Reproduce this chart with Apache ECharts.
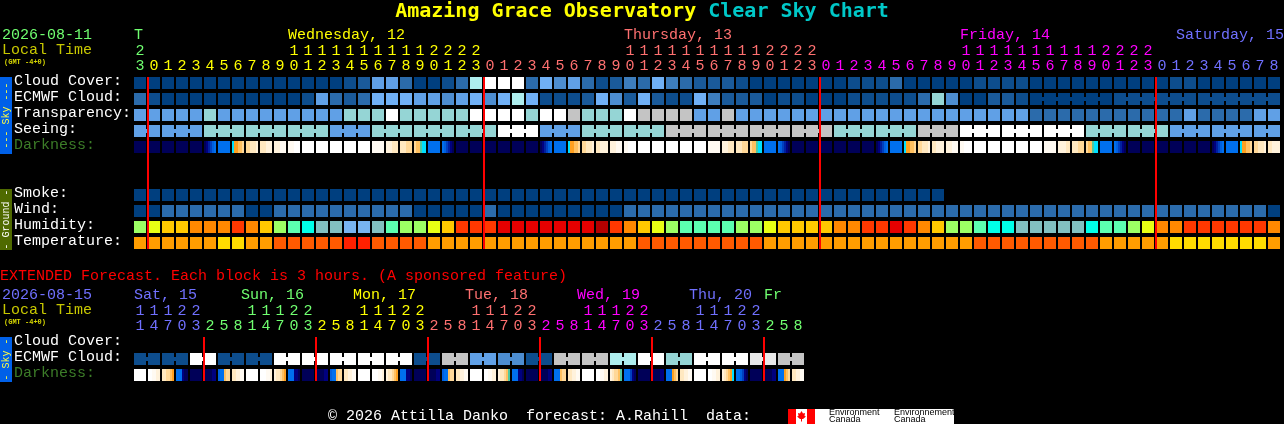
<!DOCTYPE html>
<html><head><meta charset="utf-8">
<style>html,body{margin:0;padding:0;background:#000}#c{width:1284px;height:424px}</style>
<script src="https://cdn.jsdelivr.net/npm/echarts@6/dist/echarts.min.js"></script>
</head><body><div id="c"></div>
<script>
const titleMain = "Amazing Grace Observatory";
const titleSub = "Clear Sky Chart";
const mainHours = [23,0,1,2,3,4,5,6,7,8,9,10,11,12,13,14,15,16,17,18,19,20,21,22,23,
  0,1,2,3,4,5,6,7,8,9,10,11,12,13,14,15,16,17,18,19,20,21,22,23,
  0,1,2,3,4,5,6,7,8,9,10,11,12,13,14,15,16,17,18,19,20,21,22,23,
  0,1,2,3,4,5,6,7,8];
const extHours = [11,14,17,20,23,2,5,8,11,14,17,20,23,2,5,8,11,14,17,20,23,2,5,8,
  11,14,17,20,23,2,5,8,11,14,17,20,23,2,5,8,11,14,17,20,23,2,5,8];
const mainDayLabels = [[0,"T"],[11,"Wednesday, 12"],[35,"Thursday, 13"],[59,"Friday, 14"],[75,"Saturday, 15"]];
const extDayLabels = [[0,"Sat, 15"],[8,"Sun, 16"],[16,"Mon, 17"],[24,"Tue, 18"],[32,"Wed, 19"],[40,"Thu, 20"],[45,"Fr"]];
const mainRows = ["Cloud Cover:","ECMWF Cloud:","Transparency:","Seeing:","Darkness:","","","Smoke:","Wind:","Humidity:","Temperature:"];
const extRows = ["Cloud Cover:","ECMWF Cloud:","Darkness:"];

// sky scale levels 0..12
const cloud = [0,0,0,0,0,0,0,0,0,0, 0,0,0,0,0,1,2,6,6,3, 0,0,1,3,9,12,12,12,3,7,
  5,6,3,1,2,4,3,7,4,3, 2,2,2,1,0,0,0,0,0,0, 0,1,1,1,3,0,0,0,0,0,
  1,1,1,1,0,0,0,0,0,0, 0,0,0,0,1,1,0,0,0,0,0,0];
const ecmwf = [3,1,0,0,0,0,0,0,0,0, 0,0,1,6,3,2,3,7,7,7, 6,6,5,6,7,5,7,9,7,1,
  1,1,2,7,5,2,7,2,1,1, 7,4,2,2,2,0,1,1,0,0, 0,1,1,1,1,1,3,8,5,0,
  0,2,2,1,0,0,0,0,0,0, 1,1,1,1,1,1,1,1,1,1,1,1];
const transparency = [6,6,6,6,6,8,6,6,6,6, 6,6,6,6,6,8,8,8,12,8, 8,8,8,8,12,12,12,12,8,12,
  12,10,8,8,8,12,10,10,10,10, 6,6,10,6,6,6,6,6,6,6, 6,6,6,6,6,6,6,6,6,6,
  6,6,6,6,3,3,3,3,3,3, 3,3,3,3,3,6,3,3,3,3,6,6];
const seeing = [6,6,6,6,6,8,8,8,8,8, 8,8,8,8,6,6,6,8,8,8, 8,8,8,8,8,8,12,12,12,6,
  6,6,8,8,8,8,8,8,10,10, 10,10,10,10,10,10,10,10,10,10, 8,8,8,8,8,8,10,10,10,12,
  12,12,12,12,12,12,12,12,8,8, 8,8,8,8,6,6,6,6,6,6,6,6];
const smoke = [0,0,0,0,0,0,0,0,0,0, 0,0,0,0,0,0,0,0,0,0, 0,0,0,0,0,0,0,0,0,0,
  0,0,0,0,0,0,0,0,0,0, 0,0,0,0,0,0,0,0,0,0, 0,0,0,0,0,0,0,0];
const wind = [0,0,3,3,3,3,3,3,0,0, 3,3,3,3,3,3,3,3,3,3, 0,0,0,0,0,3,0,0,0,0,
  0,0,0,0,0,3,3,3,3,3, 3,3,3,3,3,3,3,3,3,3, 3,3,3,3,3,3,3,3,3,3,
  3,3,3,3,3,3,3,3,3,3, 3,3,3,3,3,3,3,3,3,3,3,0];
const humidity = [4,5,6,6,7,7,7,8,7,6, 4,3,2,1,1,0,0,1,3,4, 4,5,6,8,8,8,9,9,9,9,
  9,9,9,10,8,7,6,5,4,3, 3,3,3,4,4,5,6,6,6,6, 7,7,8,8,9,8,7,6,4,4,
  3,2,2,1,1,1,1,1,2,3, 3,4,5,7,7,8,8,8,8,8,8,7];
const temperature = [1,1,1,1,1,1,0,0,1,1, 2,2,2,2,2,3,3,2,2,2, 2,1,1,1,1,1,1,1,1,1,
  1,1,1,1,1,1,2,2,2,2, 2,2,2,2,2,1,1,1,1,1, 1,1,1,1,1,1,1,1,1,1,
  2,2,2,2,2,2,2,2,2,1, 1,1,1,1,0,0,0,0,0,0,0,1];
const extEcmwf = [1,1,1,1,12,12,1,1,1,1,12,12,12,12,12,12,12,12,12,12,1,1,10,10,
  6,6,5,5,1,1,10,10,10,10,9,9,12,12,8,8,12,12,12,12,11,11,10,10];
// darkness: six samples across each block, one hex level per sample (single char = flat)
const darkness = ["0","0","0","0","0","012345","5","677889","99aaab","aaabbb",
  "bbbccc","cccddd","d","d","d","d","d","c","bbbaaa","aaa999",
  "988e66","5","543210","0","0","0","0","0","0","012345",
  "5","677889","99aaab","aabbbb","bbbccc","ccdddd","d","d","d","d",
  "d","c","bbbaaa","aaa999","988e66","5","543210","0","0","0",
  "0","0","0","012345","5","677889","99aaab","aabbbb","bbbccc","ccdddd",
  "d","d","d","d","d","c","bbbbaa","aaa999","988e66","5",
  "543210","0","0","0","0","0","0","012345","5","677889","99aaab","aabbbb"];
const extDarkness = ["d","ddccbb","aa9987","555100","0","000011","455899","aabbcc",
  "d","dddccb","baa987","555110","0","000011","455899","aabbcc",
  "d","dddccb","baa987","555110","0","000011","455899","aabbcc",
  "d","ddccbb","baa98e","555110","0","000011","555899","aabbcc",
  "d","ddccbb","ba998e","555310","0","000011","555789","aabbcc",
  "d","ddccbb","ba9876","554310","0","000011","555789","aabbcc"];

const skyColors = ["#003f7f","#0d4d8d","#1a5a9a","#2b6bab","#3d7dbd","#4d8dd0","#60a0e6","#70b0f5","#95d5d5","#aeeeee","#c4c4c4","#e8e8e8","#ffffff"];
const humidityColors = ["#78b4f0","#82c0c0","#00ffe8","#5cffb0","#9cff64","#e8ff14","#ffc800","#ff8800","#ff3800","#e60000","#b40000"];
const temperatureColors = ["#ffdc00","#ff9d00","#ff5a00","#ff2000"];
const darkColors = {"0":"#000058","1":"#00007f","2":"#0020a0","3":"#0040c0","4":"#0060e0","5":"#0070ee","6":"#00e0ff","7":"#ffa020","8":"#ffc060","9":"#ffd898","a":"#ffe8c0","b":"#fff2dc","c":"#fffaf2","d":"#ffffff","e":"#50c8a0"};
const dayCycle = ["#70ff70","#ffff00","#ff7070","#ff00ff","#7070ff"];
const MONO = '"Liberation Mono"';
const FONT = '15px ' + MONO;

function dayIndex(hours, start){
  const out=[]; let d=start;
  hours.forEach((h,i)=>{ if(i&&h<hours[i-1]) d++; out.push(d%dayCycle.length); });
  return out;
}
const mainDay = dayIndex(mainHours,0), extDay = dayIndex(extHours,4);

function cellSeries(values, colors, xA, yA, row, linked){
  return {type:'custom', xAxisIndex:xA, yAxisIndex:yA, z:2, clip:false,
    encode:{x:0,y:1}, data:values.map((v,i)=>[i,row,v]),
    renderItem(p,api){
      const i=api.value(0), c=api.coord([i,api.value(1)]);
      const x=c[0]-6, y=c[1]-6, fill=colors[values[i]];
      const kids=[{type:'rect',shape:{x,y,width:12,height:12},style:{fill}}];
      if(linked && linked(i) && i+1<values.length) kids.push({type:'rect',shape:{x:x+12,y:y+4,width:2,height:4},style:{fill}});
      return {type:'group',children:kids};
    }};
}
function darkSeries(values, xA, yA, row){
  return {type:'custom', xAxisIndex:xA, yAxisIndex:yA, z:2, clip:false,
    encode:{x:0,y:1}, data:values.map((v,i)=>[i,row]),
    renderItem(p,api){
      const i=api.value(0), c=api.coord([i,api.value(1)]), x=c[0]-6, y=c[1]-6;
      const code=values[i], samples=code.length===1?code.repeat(6):code;
      return {type:'group',children:samples.split('').map((k,j)=>({type:'rect',
        shape:{x:x+j*2,y,width:2,height:12},style:{fill:darkColors[k]}}))};
    }};
}
function lineSeries(hours, xA, yA, lastRow){
  const idx=hours.map((h,i)=>(i&&h<hours[i-1])?i:-1).filter(i=>i>=0);
  return {type:'custom', xAxisIndex:xA, yAxisIndex:yA, z:5, clip:false,
    encode:{x:0,y:1}, data:idx.map(i=>[i,0]),
    renderItem(p,api){
      const i=api.value(0), a=api.coord([i,0]), b=api.coord([i,lastRow]);
      return {type:'rect',shape:{x:a[0]-7,y:a[1]-6,width:2,height:b[1]-a[1]+12},style:{fill:'#ff0000'}};
    }};
}
function dayLabelSeries(labels, colorsOf, xA, yA, rowY, shift, widthLimit){
  return {type:'custom', xAxisIndex:xA, yAxisIndex:yA, z:6, clip:false,
    encode:{x:0,y:1}, data:labels.map(l=>[l[0],0]),
    renderItem(p,api){
      const di=p.dataIndex, c=api.coord([api.value(0),0]), t=labels[di][1];
      let x=c[0]+shift(di,labels.length);
      x=Math.min(x,widthLimit-t.length*9);
      return {type:'text',style:{x,y:rowY,text:t,fill:colorsOf(labels[di][0]),font:FONT,textAlign:'left',textVerticalAlign:'middle'}};
    }};
}
function hourAxis(hours, days, gridIndex, tens){
  return {type:'category', gridIndex, position:'top',
    offset: tens?15:0,
    data:hours.map(h=>tens?(h>=10?String(Math.floor(h/10)):''):String(h%10)),
    axisLine:{show:false},axisTick:{show:false},splitLine:{show:false},
    axisLabel:{show:true,interval:0,hideOverlap:false,margin:9,verticalAlign:'middle',
      fontFamily:'Liberation Mono',fontSize:15,color:(v,i)=>dayCycle[days[i]]}};
}
function rowAxis(rows, gridIndex){
  return {type:'category', gridIndex, inverse:true, data:rows,
    axisLine:{show:false},axisTick:{show:false},splitLine:{show:false},
    axisLabel:{show:true,interval:0,margin:119,align:'left',verticalAlign:'bottom',lineHeight:4,
      fontFamily:'Liberation Mono',fontSize:15,
      color:v=>v==='Darkness:'?'#3c7c28':'#ffffff',formatter:v=>v}};
}
function txt(x,y,text,fill,font){
  return {type:'text',silent:true,x,y,style:{x:0,y:0,text,fill,font:font||FONT,textVerticalAlign:'middle'}};
}
function band(y,h,fill,label,color){
  return [{type:'rect',silent:true,shape:{x:0,y,width:12,height:h},style:{fill}},
    {type:'text',silent:true,x:6,y:y+h/2,rotation:Math.PI/2,style:{x:0,y:0,text:label,fill:color,
      font:'10px '+MONO,textAlign:'center',textVerticalAlign:'middle'}}];
}
const graphics = [
  txt(2,35,"2026-08-11","#70ff70"),
  txt(2,50,"Local Time","#c8c800"),
  txt(4,62,"(GMT -4+0)","#d8d800",'bold 7px '+MONO),
  txt(0,276,"EXTENDED Forecast. Each block is 3 hours. (A sponsored feature)","#ff0000"),
  txt(2,295,"2026-08-15","#7070ff"),
  txt(2,310,"Local Time","#c8c800"),
  txt(4,322,"(GMT -4+0)","#d8d800",'bold 7px '+MONO),
  txt(328,416,"\u00a9 2026 Attilla Danko  forecast: A.Rahill  data:","#ffffff"),
  ...band(77,77,"#0060e8","--- Sky ---","#ffff40"),
  ...band(189,61,"#4f6a00","- Ground -","#ffffff"),
  ...band(337,45,"#0060e8","- Sky -","#ffff40"),
  {type:'rect',silent:true,shape:{x:788,y:409,width:166,height:15},style:{fill:'#ffffff'}},
  {type:'rect',silent:true,shape:{x:788,y:409,width:8,height:15},style:{fill:'#ff0000'}},
  {type:'rect',silent:true,shape:{x:807,y:409,width:8,height:15},style:{fill:'#ff0000'}},
  {type:'polygon',silent:true,shape:{points:[[801.5,411],[803,413.5],[805,413],[804.5,416],[806,416.5],[803,419],[802,419],[802,421.5],[801,421.5],[801,419],[800,419],[797,416.5],[798.5,416],[798,413],[800,413.5]]},style:{fill:'#ff0000'}},
  txt(829,412.5,"Environment","#000000",'9px "Liberation Sans"'),
  txt(829,420,"Canada","#000000",'9px "Liberation Sans"'),
  txt(894,412.5,"Environnement","#000000",'9px "Liberation Sans"'),
  txt(894,420,"Canada","#000000",'9px "Liberation Sans"')
];

const chart = echarts.init(document.getElementById('c'),null,{renderer:'canvas',width:1284,height:424});
chart.setOption({
  backgroundColor:'#000000', animation:false,
  title:{left:'center',top:0,padding:[2,0,0,0],text:'{a|'+titleMain+' }{b|'+titleSub+'}',
    textStyle:{rich:{
      a:{fontFamily:'DejaVu Sans Mono',fontSize:20,fontWeight:'bold',color:'#ffff00'},
      b:{fontFamily:'DejaVu Sans Mono',fontSize:20,fontWeight:'bold',color:'#00c8c8'}}}},
  grid:[
    {left:133,top:75,width:1148,height:176},
    {left:133,top:335,width:672,height:48}
  ],
  xAxis:[
    hourAxis(mainHours,mainDay,0,false),
    hourAxis(mainHours,mainDay,0,true),
    hourAxis(extHours,extDay,1,false),
    hourAxis(extHours,extDay,1,true)
  ],
  yAxis:[rowAxis(mainRows,0),rowAxis(extRows,1)],
  series:[
    cellSeries(cloud,skyColors,0,0,0),
    cellSeries(ecmwf,skyColors,0,0,1,i=>i>=64&&(i-64)%6!==5),
    cellSeries(transparency,skyColors,0,0,2),
    cellSeries(seeing,skyColors,0,0,3,i=>i%3!==1),
    darkSeries(darkness,0,0,4),
    cellSeries(smoke,skyColors,0,0,7),
    cellSeries(wind,skyColors,0,0,8),
    cellSeries(humidity,humidityColors,0,0,9),
    cellSeries(temperature,temperatureColors,0,0,10),
    lineSeries(mainHours,0,0,10),
    dayLabelSeries(mainDayLabels,i=>dayCycle[mainDay[i]],0,0,35,()=>-6,1284),
    cellSeries(extEcmwf,skyColors,2,1,1,i=>i%2===0),
    darkSeries(extDarkness,2,1,2),
    lineSeries(extHours,2,1,2),
    dayLabelSeries(extDayLabels,i=>dayCycle[extDay[i]],2,1,295,(d,n)=>(d===0||d===n-1)?-6:-11,1284)
  ],
  graphic:{elements:graphics}
});
</script></body></html>
